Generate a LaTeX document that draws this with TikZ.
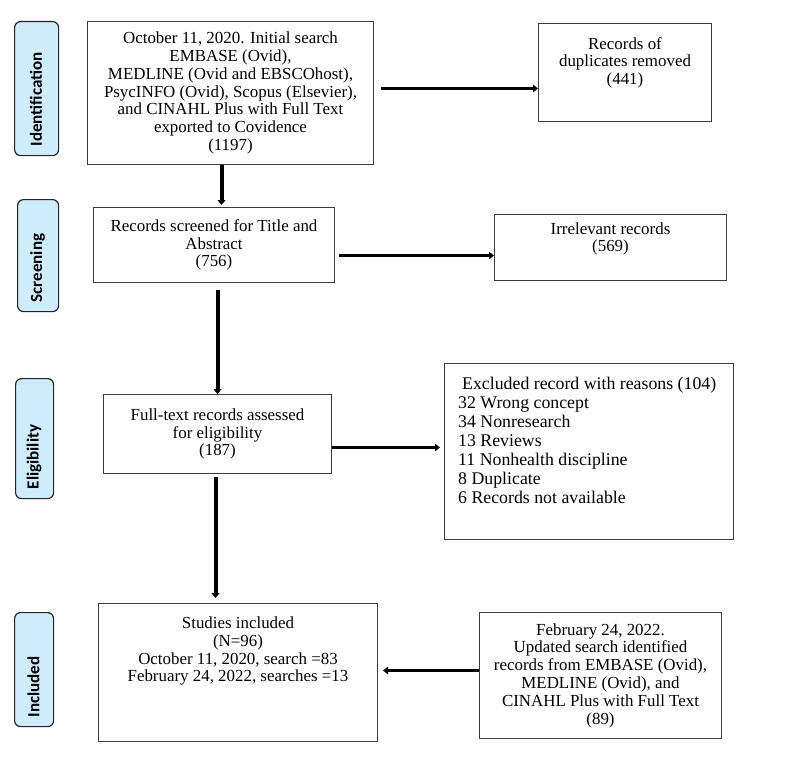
\documentclass[tikz,border=0pt]{standalone}
\usepackage{fontspec}
\setmainfont{Liberation Serif}
\newfontfamily\labfont{Carlito}
\usetikzlibrary{arrows.meta,positioning}
\definecolor{labfill}{RGB}{207,236,252}
\definecolor{boxline}{RGB}{60,60,60}
\tikzset{
  box/.style={draw=boxline, line width=1pt, fill=white, rectangle, inner sep=0pt, anchor=north west},
  txt/.style={font=\fontsize{16.9}{17.8}\selectfont, align=center},
  bigtxt/.style={font=\fontsize{17.8}{19.1}\selectfont, align=left},
  stage/.style={draw=black!85, line width=1.2pt, fill=labfill, rounded corners=6pt, inner sep=0pt, anchor=north west},
  stagetxt/.style={font=\labfont\bfseries\fontsize{17}{17}\selectfont, rotate=90, inner sep=0pt},
  arr/.style={line width=4pt, -{Triangle[width=8pt,length=5pt]}},
  harr/.style={line width=3.5pt, -{Triangle[width=7.5pt,length=5pt]}}
}
\begin{document}
\begin{tikzpicture}[x=1pt,y=-1pt]
\useasboundingbox (0,0) rectangle (800,757);
% stage labels
\node[stage, minimum width=44pt, minimum height=134pt] (sid) at (14,21) {};
\node[stagetxt] (tid) at (36,99.5) {Identification};
\node[stage, minimum width=41pt, minimum height=112pt] (sscr) at (17,199) {};
\node[stagetxt] (tscr) at (37.5,268) {Screening};
\node[stage, minimum width=38pt, minimum height=120pt] (sel) at (15,378) {};
\node[stagetxt] (tel) at (34,457) {Eligibility};
\node[stage, minimum width=39pt, minimum height=114pt] (sinc) at (14,612) {};
\node[stagetxt] (tinc) at (33.5,687) {Included};
% boxes
\node[box, minimum width=286pt, minimum height=143pt, txt] (b1) at (87,21) {October 11, 2020. Initial search\\EMBASE (Ovid),\\MEDLINE (Ovid and EBSCOhost),\\PsycINFO (Ovid), Scopus (Elsevier),\\and CINAHL Plus with Full Text\\exported to Covidence\\(1197)};
\node[box, minimum width=173pt, minimum height=98pt] (dup) at (538,23) {};
\node[txt, anchor=north, inner sep=0pt] (tdup) at ([yshift=-14pt]dup.north) {Records of\\duplicates removed\\(441)};
\node[box, minimum width=241pt, minimum height=75pt, txt] (scr) at (93,207) {Records screened for Title and\\Abstract\\(756)};
\node[box, minimum width=232pt, minimum height=66pt, txt] (irr) at (494,214) {Irrelevant records\\(569)\\[3pt]};
\node[box, minimum width=228pt, minimum height=79pt, txt] (elig) at (103,394) {Full-text records assessed\\for eligibility\\(187)};
\node[box, minimum width=289pt, minimum height=176pt] (excl) at (444,363) {};
\node[bigtxt, anchor=north west, inner sep=0pt] (texcl) at ([xshift=14pt,yshift=-13.5pt]excl.north west) {\hspace{4pt}Excluded record with reasons (104)\\32 Wrong concept\\34 Nonresearch\\13 Reviews\\11 Nonhealth discipline\\8 Duplicate\\6 Records not available};
\node[box, minimum width=279pt, minimum height=138pt] (incl) at (98,603) {};
\node[txt, anchor=north, inner sep=0pt] (tincl) at ([yshift=-13.5pt]incl.north) {Studies included\\(N=96)\\October 11, 2020, search =83\\February 24, 2022, searches =13};
\node[box, minimum width=242pt, minimum height=126pt, txt] (feb) at (479,612) {February 24, 2022.\\Updated search identified\\records from EMBASE (Ovid),\\MEDLINE (Ovid), and\\CINAHL Plus with Full Text\\(89)};
% connectors
\draw[arr] ([xshift=-9pt]b1.south) -- ([xshift=-9pt,yshift=2pt]b1.south |- scr.north);
\draw[harr] ([xshift=7pt,yshift=4.5pt]b1.east) -- ([yshift=4.5pt]b1.east -| dup.west);
\draw[harr] ([xshift=4pt,yshift=-10.5pt]scr.east) -- ([yshift=-10.5pt]scr.east -| irr.west);
\draw[arr] ([yshift=-7pt]scr.south -| elig.north) -- (elig.north);
\draw[harr] ([yshift=-13.5pt]elig.east) -- ([xshift=-4pt,yshift=-13.5pt]elig.east -| excl.west);
\draw[arr] ([xshift=-2pt,yshift=-3pt]elig.south) -- ([xshift=-2pt,yshift=5pt]elig.south |- incl.north);
\draw[harr] ([yshift=5pt]feb.west) -- ([xshift=5pt,yshift=5pt]feb.west -| incl.east);
\end{tikzpicture}
\end{document}
